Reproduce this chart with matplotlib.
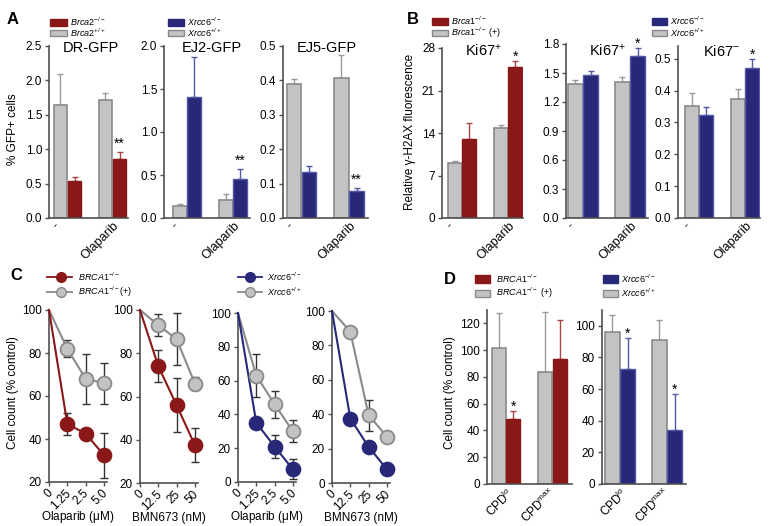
import numpy as np
import matplotlib
matplotlib.use('Agg')
import matplotlib.pyplot as plt
from matplotlib.patches import Rectangle
from matplotlib.transforms import ScaledTranslation

# ---------------- data ----------------
ab_groups = ['-', 'Olaparib']
d_groups = [r'CPD$^{\mathrm{lo}}$', r'CPD$^{\mathrm{max}}$']

A_titles = ['DR-GFP', 'EJ2-GFP', 'EJ5-GFP']
A_wt = [[1.64, 1.71], [0.14, 0.21], [0.390, 0.407]]
A_wt_sem = [[0.46, 0.10], [0.02, 0.07], [0.014, 0.067]]
A_ko = [[0.54, 0.86], [1.41, 0.45], [0.135, 0.079]]
A_ko_sem = [[0.05, 0.10], [0.46, 0.12], [0.017, 0.009]]
A_stars = [['', '**'], ['', '**'], ['', '**']]

B_titles = [r'$\mathrm{Ki67^{+}}$', r'$\mathrm{Ki67^{+}}$', r'$\mathrm{Ki67^{-}}$']
B_wt = [[9.1, 14.9], [1.39, 1.41], [0.353, 0.374]]
B_wt_sem = [[0.3, 0.4], [0.04, 0.045], [0.041, 0.031]]
B_ko = [[13.0, 24.9], [1.48, 1.675], [0.322, 0.471]]
B_ko_sem = [[2.7, 1.0], [0.04, 0.085], [0.025, 0.029]]
B_stars = [['', '*'], ['', '*'], ['', '*']]

C_olap_doses = ['0', '1.25', '2.5', '5.0']
C_bmn_doses = ['0', '12.5', '25', '50']
C_xlabels = [r'Olaparib ($\mathrm{\mu}$M)', 'BMN673 (nM)', r'Olaparib ($\mathrm{\mu}$M)', 'BMN673 (nM)']
C_wt = [[100, 82, 68, 66], [100, 93, 86.5, 66], [100, 63, 46, 30], [100, 88, 39.5, 27]]
C_wt_sem = [[0, 4, 11.5, 9.5], [0, 5, 12, 3], [0, 12.5, 8, 6.5], [0, 1, 9, 1]]
C_ko = [[100, 47, 42.5, 32.5], [100, 74, 56, 37.5], [100, 35, 21, 7.5], [100, 37.5, 21, 8]]
C_ko_sem = [[0, 5, 2, 10.5], [0, 7.5, 12.5, 8], [0, 2, 7, 6], [0, 1, 1, 1]]

D_wt = [[101.6, 83.5], [96.0, 91.1]]
D_wt_sem = [[26.0, 45.0], [11.0, 12.7]]
D_ko = [[48.2, 93.1], [72.8, 34.2]]
D_ko_sem = [[6.4, 29.6], [19.4, 22.8]]
D_stars = [['*', ''], ['*', '*']]

# ---------------- style ----------------
plt.rcParams['font.family'] = ['Liberation Sans', 'DejaVu Sans']
plt.rcParams['mathtext.fontset'] = 'custom'
plt.rcParams['mathtext.rm'] = 'Liberation Sans'
plt.rcParams['mathtext.it'] = 'Liberation Sans:italic'
plt.rcParams['mathtext.bf'] = 'Liberation Sans:bold'

RED = '#8a1818'
RED_E = '#a84545'
BLUE = '#272978'
BLUE_E = '#5257a6'
GRAY_F = '#c3c3c3'
GRAY_E = '#8a8a8a'
SPINE = '#505050'

W, H = 771, 526
fig = plt.figure(figsize=(W / 100, H / 100), dpi=100)


def ax_px(l, r, t, b):
    return fig.add_axes([l / W, 1 - b / H, (r - l) / W, (b - t) / H])


def style(ax):
    for s in ['top', 'right']:
        ax.spines[s].set_visible(False)
    for s in ['left', 'bottom']:
        ax.spines[s].set_color(SPINE)
        ax.spines[s].set_linewidth(1.2)
    ax.tick_params(axis='both', labelsize=8.5, length=3, width=1, pad=2, color=SPINE)
    ax.patch.set_visible(False)


def off(dx_px, dy_px):
    return ScaledTranslation(dx_px / 100, dy_px / 100, fig.dpi_scale_trans)


def rot_labels(ax, positions, labels, dxs, pad=2, fs=9):
    for p, lab, dx in zip(positions, labels, dxs):
        ax.text(p, 0, lab, transform=ax.get_xaxis_transform() + off(dx, -pad),
                rotation=45, ha='right', va='top', fontsize=fs)


def bar_panel(ax, lay, wt, wt_sem, ko, ko_sem, color, ecolor, ecol2, ylim, ticks, fmt, stars, star_dy,
              labels, dxs, pad=2, fs=9):
    l, r, c0, unit = lay
    x = np.arange(len(wt))
    wt = np.array(wt); ko = np.array(ko)
    ax.bar(x - 0.16, wt, 0.3, color=GRAY_F, edgecolor=GRAY_E, linewidth=1.2, zorder=2)
    ax.bar(x + 0.16, ko, 0.3, color=color, edgecolor=ecolor, linewidth=1.0, zorder=2)
    ax.errorbar(x - 0.16, wt, yerr=[np.zeros(len(wt)), wt_sem], fmt='none', ecolor='#9a9a9a',
                elinewidth=1, capsize=2.5, capthick=1, zorder=1)
    ax.errorbar(x + 0.16, ko, yerr=[np.zeros(len(ko)), ko_sem], fmt='none', ecolor=ecol2,
                elinewidth=1, capsize=2.5, capthick=1, zorder=1)
    for i in range(len(wt)):
        if stars[i]:
            ax.annotate(stars[i], xy=(x[i] + 0.16, ko[i] + ko_sem[i]), xytext=(0, star_dy),
                        textcoords='offset points', ha='center', va='baseline', fontsize=10)
    a = -(c0 - l) / unit
    ax.set_xlim(a, a + (r - l) / unit)
    ax.set_ylim(*ylim)
    ax.set_yticks(ticks)
    ax.set_yticklabels([fmt.format(t) for t in ticks])
    ax.set_xticks([])
    style(ax)
    rot_labels(ax, x, labels, dxs, pad=pad, fs=fs)


# ---------------- Panel A ----------------
A_lay = [(49, 128, 46, 218, 67.5, 45), (164, 250, 46, 218, 187, 46), (283, 368, 46, 218, 301.5, 47.5)]
A_ylim = [(0, 2.5), (0, 2.0), (0, 0.5)]
A_ticks = [np.arange(0, 2.51, 0.5), np.arange(0, 2.01, 0.5), np.arange(0, 0.51, 0.1)]
A_col = [(RED, RED, RED_E), (BLUE, BLUE_E, BLUE_E), (BLUE, BLUE_E, BLUE_E)]
for i in range(3):
    l, r, t, b, c0, u = A_lay[i]
    ax = ax_px(l, r, t, b)
    bar_panel(ax, (l, r, c0, u), A_wt[i], A_wt_sem[i], A_ko[i], A_ko_sem[i], *A_col[i],
              A_ylim[i], A_ticks[i], '{:.1f}', A_stars[i], 3, ab_groups, [-6, 9])

# ---------------- Panel B ----------------
B_lay = [(442, 523, 48, 218, 462, 46), (566, 648, 44, 218, 583, 47), (678, 760, 46, 218, 699, 46)]
B_ylim = [(0, 28), (0, 1.8), (0, 0.54)]
B_ticks = [np.arange(0, 28.1, 7), np.arange(0, 1.81, 0.3), np.arange(0, 0.51, 0.1)]
B_fmt = ['{:.0f}', '{:.1f}', '{:.1f}']
B_col = [(RED, RED, RED_E), (BLUE, BLUE_E, BLUE_E), (BLUE, BLUE_E, BLUE_E)]
for i in range(3):
    l, r, t, b, c0, u = B_lay[i]
    ax = ax_px(l, r, t, b)
    bar_panel(ax, (l, r, c0, u), B_wt[i], B_wt_sem[i], B_ko[i], B_ko_sem[i], *B_col[i],
              B_ylim[i], B_ticks[i], B_fmt[i], B_stars[i], 0, ab_groups, [-6, 9])

# ---------------- Panel C ----------------
C_lay = [(49, 107, 310, 482), (140, 198, 310, 483), (238, 296, 313, 482), (332, 390, 311, 483)]
C_ylim = [(20, 100), (20, 100), (0, 100), (0, 100)]
C_doses = [C_olap_doses, C_bmn_doses, C_olap_doses, C_bmn_doses]
C_col = [RED, RED, BLUE, BLUE]
for i in range(4):
    l, r, t, b = C_lay[i]
    ax = ax_px(l, r, t, b)
    xs = np.arange(len(C_doses[i]))
    for vals, sem, lc, mf, me in [(C_wt[i], C_wt_sem[i], GRAY_E, GRAY_F, GRAY_E),
                                   (C_ko[i], C_ko_sem[i], C_col[i], C_col[i], C_col[i])]:
        ax.errorbar(xs[1:], vals[1:], yerr=sem[1:], fmt='none', ecolor='#333333', elinewidth=1,
                    capsize=3, capthick=1, zorder=2, clip_on=False)
        ax.plot(xs, vals, color=lc, lw=1.5, zorder=3, clip_on=False)
        ax.plot(xs[1:], vals[1:], 'o', ms=10, mfc=mf, mec=me, mew=1.3, zorder=4, clip_on=False)
    ax.set_xlim(0, 3.17)
    ax.set_ylim(*C_ylim[i])
    ax.set_yticks(np.arange(C_ylim[i][0], 100.1, 20))
    ax.set_yticklabels(['{:.0f}'.format(v) for v in np.arange(C_ylim[i][0], 100.1, 20)])
    ax.set_xticks(xs)
    ax.set_xticklabels([])
    style(ax)
    rot_labels(ax, xs, C_doses[i], [6] * 4, pad=5, fs=8.5)
    ax.text(0.5, 0, C_xlabels[i], transform=ax.transAxes + off(0, -35), ha='center', va='center',
            fontsize=8.5)

# ---------------- Panel D ----------------
D_lay = [(487, 572, 310, 484, 506, 46.5), (602, 686, 310, 484, 620, 47)]
D_ylim = [(0, 130), (0, 110)]
D_ticks = [np.arange(0, 121, 20), np.arange(0, 101, 20)]
D_col = [(RED, RED, RED_E), (BLUE, BLUE_E, BLUE_E)]
for i in range(2):
    l, r, t, b, c0, u = D_lay[i]
    ax = ax_px(l, r, t, b)
    bar_panel(ax, (l, r, c0, u), D_wt[i], D_wt_sem[i], D_ko[i], D_ko_sem[i], *D_col[i],
              D_ylim[i], D_ticks[i], '{:.0f}', D_stars[i], 0, d_groups, [11, 6], pad=2, fs=8.5)

# ---------------- overlay: letters, titles, legends, y labels ----------------
ov = fig.add_axes([0, 0, 1, 1])
ov.set_xlim(0, W)
ov.set_ylim(H, 0)
ov.axis('off')
ov.patch.set_visible(False)

for txt, x, y in [('A', 13, 19), ('B', 413, 20), ('C', 16, 276), ('D', 450, 279)]:
    ov.text(x, y, txt, fontsize=12, fontweight='bold', ha='center', va='center')

for txt, x in zip(A_titles, [91, 212, 327]):
    ov.text(x, 48, txt, fontsize=10.5, ha='center', va='center')
for txt, x in zip(B_titles, [483, 607, 721]):
    ov.text(x, 51, txt, fontsize=10.5, ha='center', va='center')

ov.text(13, 129, '% GFP+ cells', rotation=90, fontsize=8.5, ha='center', va='center')
ov.text(410, 132, 'Relative γ-H2AX fluorescence', rotation=90, fontsize=8.5, ha='center', va='center')
ov.text(13, 393, 'Cell count (% control)', rotation=90, fontsize=8.5, ha='center', va='center')
ov.text(450, 393, 'Cell count (% control)', rotation=90, fontsize=8.5, ha='center', va='center')


def leg_patch(x, yc, w, h, face, edge, label, tx):
    ov.add_patch(Rectangle((x, yc - h / 2), w, h, facecolor=face, edgecolor=edge, lw=1))
    ov.text(tx, yc, label, fontsize=6.5, ha='left', va='center')


def leg_line(x0, x1, xm, yc, color, mf, me, label, tx):
    ov.plot([x0, x1], [yc, yc], color=color, lw=1.3)
    ov.plot([xm], [yc], 'o', ms=7, mfc=mf, mec=me, mew=1)
    ov.text(tx, yc, label, fontsize=6.5, ha='left', va='center')


leg_patch(50, 22, 17, 7, RED, RED, r'$\mathit{Brca2^{-/-}}$', 70)
leg_patch(50, 33, 17, 6, GRAY_F, GRAY_E, r'$\mathit{Brca2^{+/+}}$', 70)
leg_patch(168, 22, 16, 7, BLUE, BLUE, r'$\mathit{Xrcc6^{-/-}}$', 187)
leg_patch(168, 33, 16, 6, GRAY_F, GRAY_E, r'$\mathit{Xrcc6^{+/+}}$', 187)

leg_patch(432, 21, 16, 7, RED, RED, r'$\mathit{Brca1^{-/-}}$', 451)
leg_patch(432, 33, 16, 6, GRAY_F, GRAY_E, r'$\mathit{Brca1^{-/-}\ (+)}$', 451)
leg_patch(652, 21, 15, 7, BLUE, BLUE, r'$\mathit{Xrcc6^{-/-}}$', 670)
leg_patch(652, 33, 15, 6, GRAY_F, GRAY_E, r'$\mathit{Xrcc6^{+/+}}$', 670)

leg_line(47, 72, 61, 277, RED, RED, RED, r'$\mathit{BRCA1^{-/-}}$', 78)
leg_line(47, 72, 61, 292, GRAY_E, GRAY_F, GRAY_E, r'$\mathit{BRCA1^{-/-}(+)}$', 78)
leg_line(238, 262, 250, 277, BLUE, BLUE, BLUE, r'$\mathit{Xrcc6^{-/-}}$', 267)
leg_line(238, 262, 250, 292, GRAY_E, GRAY_F, GRAY_E, r'$\mathit{Xrcc6^{+/+}}$', 267)

leg_patch(475, 279, 15, 8, RED, RED, r'$\mathit{BRCA1^{-/-}}$', 496)
leg_patch(475, 293, 15, 7, GRAY_F, GRAY_E, r'$\mathit{BRCA1^{-/-}\ (+)}$', 496)
leg_patch(603, 279, 15, 8, BLUE, BLUE, r'$\mathit{Xrcc6^{-/-}}$', 621)
leg_patch(603, 293, 15, 7, GRAY_F, GRAY_E, r'$\mathit{Xrcc6^{+/+}}$', 621)

fig.savefig('out.png', dpi=100)
